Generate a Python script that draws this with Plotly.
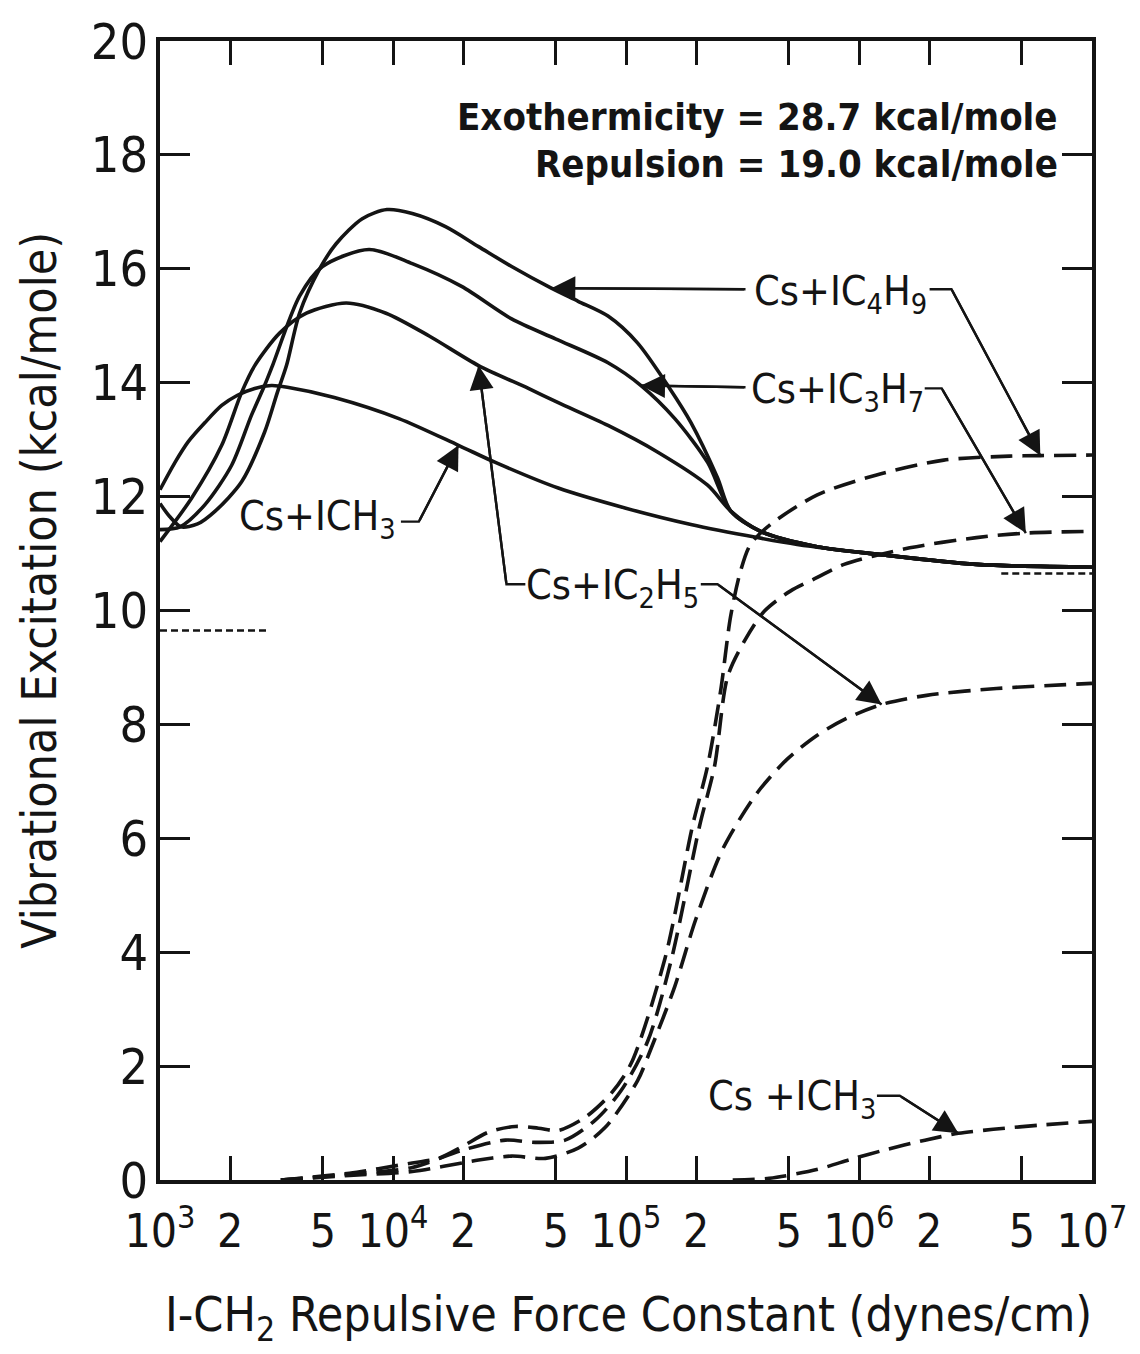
import math
import plotly.graph_objects as go

# I-CH2 repulsive force constant (dynes/cm) vs vibrational excitation (kcal/mole)

# solid curves (upper family)
ich3_solid_k = [1000, 1160, 1320, 1560, 1840, 2150, 2550, 3010, 3520, 5600, 10600, 19100,
                27500, 51200, 99000, 190000, 366000, 543000, 1.19e6, 3.19e6, 1e7]
ich3_solid_e = [12.12, 12.6, 12.96, 13.3, 13.6, 13.78, 13.9, 13.95, 13.92, 13.74, 13.37, 12.9,
                12.6, 12.15, 11.8, 11.51, 11.28, 11.16, 10.99, 10.81, 10.76]

ic2h5_solid_k = [1000, 1370, 1840, 2240, 2550, 3260, 4250, 6300, 9330, 14300, 23300,
                 38100, 51200, 83700, 137000, 224000, 281000, 378000, 662000, 1.19e6,
                 3.19e6, 1e7]
ic2h5_solid_e = [11.21, 11.98, 12.9, 13.83, 14.3, 14.87, 15.22, 15.40, 15.22, 14.82, 14.30,
                 13.9, 13.65, 13.25, 12.78, 12.2, 11.75, 11.39, 11.12, 10.99,
                 10.81, 10.76]

ic3h7_solid_k = [1000, 1220, 1560, 2030, 2470, 2810, 3040, 3970, 4980, 7890, 12100, 19700,
                 32300, 49800, 83700, 116000, 162000, 224000, 281000, 378000, 662000,
                 1.19e6, 3.19e6, 1e7]
ic3h7_solid_e = [11.42, 11.47, 11.86, 12.55, 13.43, 13.95, 14.3, 15.52, 16.04, 16.34, 16.09, 15.69,
                 15.12, 14.77, 14.35, 13.95, 13.37, 12.6, 11.75, 11.39, 11.12,
                 10.99, 10.81, 10.76]

ic4h9_solid_k = [1000, 1100, 1230, 1450, 1720, 2240, 2810, 3190, 3490, 3970, 4830, 5700,
                 7380, 9420, 12100, 16800, 23300, 32300, 47800, 62300, 83700, 112000,
                 154000, 190000, 247000, 281000, 378000, 662000, 1.19e6, 3.19e6, 1e7]
ic4h9_solid_e = [11.88, 11.65, 11.47, 11.52, 11.74, 12.26, 13.13, 13.83, 14.3, 15.22, 15.99, 16.44,
                 16.88, 17.04, 16.97, 16.74, 16.39, 16.04, 15.66, 15.43, 15.17, 14.7,
                 13.9, 13.3, 12.33, 11.75, 11.39, 11.12, 10.99, 10.81, 10.76]

# dashed curves (lower family)
ic4h9_dash_k = [3300, 6500, 12100, 15700, 19700, 25700, 33500, 42100, 51200, 66800, 86300,
                105000, 147000, 193000, 224000, 255000, 281000, 310000, 342000, 417000,
                662000, 1.19e6, 2.31e6, 4.42e6, 6.0e6, 1e7]
ic4h9_dash_e = [0, 0.12, 0.3, 0.38, 0.58, 0.84, 0.94, 0.91, 0.87, 1.1, 1.52,
                2.04, 3.89, 6.22, 7.27, 8.6, 9.89, 10.69, 11.16, 11.51,
                12.03, 12.38, 12.64, 12.71, 12.72, 12.73]

ic3h7_dash_k = [3300, 6500, 12100, 19700, 30400, 40800, 54800, 73800, 95300, 124000,
                157000, 207000, 240000, 273000, 323000, 393000, 507000, 662000, 863000,
                1.65e6, 3.19e6, 5.2e6, 1e7]
ic3h7_dash_e = [0, 0.1, 0.22, 0.52, 0.7, 0.66, 0.7, 1.05, 1.57, 2.44,
                3.89, 6.22, 7.27, 8.84, 9.47, 9.99, 10.34, 10.58, 10.81,
                11.1, 11.28, 11.36, 11.39]

ic2h5_dash_k = [3300, 6500, 12100, 23300, 32300, 45100, 62300, 81300, 112000, 127000,
                162000, 199000, 260000, 366000, 492000, 662000, 889000, 1.25e6, 1.95e6,
                3.89e6, 1e7]
ic2h5_dash_e = [0, 0.08, 0.15, 0.35, 0.42, 0.38, 0.56, 0.92, 1.74, 2.27,
                3.40, 4.57, 5.81, 6.8, 7.39, 7.81, 8.11, 8.35, 8.51,
                8.63, 8.72]

ich3_dash_k = [287000, 412000, 668000, 934000, 1.27e6, 1.92e6, 2.67e6, 3.77e6, 6.24e6, 1e7]
ich3_dash_e = [0, 0.03, 0.19, 0.37, 0.52, 0.7, 0.82, 0.89, 0.97, 1.03]

# short dotted reference levels
dot_left_k = [1000, 2870]
dot_left_e = [9.65, 9.65]
dot_right_k = [4.08e6, 1e7]
dot_right_e = [10.65, 10.65]

# axis ticks
x_tick_vals = [1e3, 2e3, 5e3, 1e4, 2e4, 5e4, 1e5, 2e5, 5e5, 1e6, 2e6, 5e6, 1e7]
x_tick_text = ["10<sup>3</sup>", "2", "5", "10<sup>4</sup>", "2", "5", "10<sup>5</sup>",
               "2", "5", "10<sup>6</sup>", "2", "5", "10<sup>7</sup>"]
x_decades = [1e3, 1e4, 1e5, 1e6, 1e7]
y_tick_vals = [0, 2, 4, 6, 8, 10, 12, 14, 16, 18, 20]

FONT = "Liberation Sans Narrow, DejaVu Sans Condensed, Liberation Sans, sans-serif"
INK = "#141414"

fig = go.Figure()


def curve(k, e, dash="solid", width=3.6):
    fig.add_trace(go.Scatter(
        x=k, y=e, mode="lines",
        line=dict(color=INK, width=width, dash=dash, shape="spline", smoothing=0.8),
        hoverinfo="skip", showlegend=False))


LONG_DASH = "22px,10px"
curve(ich3_solid_k, ich3_solid_e)
curve(ic2h5_solid_k, ic2h5_solid_e)
curve(ic3h7_solid_k, ic3h7_solid_e)
curve(ic4h9_solid_k, ic4h9_solid_e)
curve(ic4h9_dash_k, ic4h9_dash_e, LONG_DASH)
curve(ic3h7_dash_k, ic3h7_dash_e, LONG_DASH)
curve(ic2h5_dash_k, ic2h5_dash_e, LONG_DASH)
curve(ich3_dash_k, ich3_dash_e, LONG_DASH)
curve(dot_left_k, dot_left_e, "7px,4px", 2.6)
curve(dot_right_k, dot_right_e, "7px,4px", 2.6)

# labels with leader lines; tips sit on points of the curves they name
# (label text, label centre log10 k, label centre e, leader pieces)
labels = [
    ("Cs+IC<sub>4</sub>H<sub>9</sub>", 5.919, 15.55,
     [((6.303, 15.64), (6.397, 15.64), (ic4h9_dash_k[24], ic4h9_dash_e[24])),
      ((5.513, 15.64), None, (ic4h9_solid_k[18], ic4h9_solid_e[18]))]),
    ("Cs+IC<sub>3</sub>H<sub>7</sub>", 5.906, 13.84,
     [((6.282, 13.90), (6.355, 13.90), (ic3h7_dash_k[21], ic3h7_dash_e[21])),
      ((5.513, 13.92), None, (ic3h7_solid_k[15], ic3h7_solid_e[15]))]),
    ("Cs+IC<sub>2</sub>H<sub>5</sub>", 4.944, 10.40,
     [((4.568, 10.46), (4.487, 10.46), (ic2h5_solid_k[10], ic2h5_solid_e[10])),
      ((5.321, 10.46), (5.393, 10.46), (ic2h5_dash_k[17], ic2h5_dash_e[17]))]),
    ("Cs+ICH<sub>3</sub>", 3.675, 11.60,
     [((4.034, 11.56), (4.111, 11.56), (ich3_solid_k[11], ich3_solid_e[11]))]),
    ("Cs +ICH<sub>3</sub>", 5.714, 1.42,
     [((6.077, 1.48), (6.175, 1.48), (ich3_dash_k[6], ich3_dash_e[6]))]),
]

annotations = []
for text, lx, ly, leaders in labels:
    annotations.append(dict(
        x=lx, y=ly, xref="x", yref="y", text=text, showarrow=False,
        xanchor="center", yanchor="middle",
        font=dict(family=FONT, size=41, color=INK)))
    for start, kink, tip in leaders:
        pts = [start] + ([kink] if kink else [])
        fig.add_trace(go.Scatter(
            x=[10 ** p[0] for p in pts] + [tip[0]],
            y=[p[1] for p in pts] + [tip[1]],
            mode="lines", line=dict(color=INK, width=2.4),
            hoverinfo="skip", showlegend=False))
        tail = pts[-1]
        annotations.append(dict(
            x=math.log10(tip[0]), y=tip[1], xref="x", yref="y",
            ax=tail[0], ay=tail[1], axref="x", ayref="y",
            text="", showarrow=True, arrowhead=2, arrowsize=2.0,
            arrowwidth=2.4, arrowcolor=INK, standoff=0))

annotations += [
    dict(x=0.966, y=0.933, xref="paper", yref="paper", xanchor="right", yanchor="middle",
         text="<b>Exothermicity = 28.7 kcal/mole</b>", showarrow=False,
         font=dict(family=FONT, size=38, color=INK)),
    dict(x=0.966, y=0.892, xref="paper", yref="paper", xanchor="right", yanchor="middle",
         text="<b>Repulsion = 19.0 kcal/mole</b>", showarrow=False,
         font=dict(family=FONT, size=38, color=INK)),
    dict(x=-0.130, y=0.518, xref="paper", yref="paper", xanchor="center", yanchor="middle",
         text="Vibrational Excitation (kcal/mole)", textangle=-90, showarrow=False,
         font=dict(family=FONT, size=48, color=INK)),
    dict(x=0.503, y=-0.121, xref="paper", yref="paper", xanchor="center", yanchor="middle",
         text="I-CH<sub>2</sub> Repulsive Force Constant (dynes/cm)", showarrow=False,
         font=dict(family=FONT, size=48, color=INK)),
]

axis_common = dict(showgrid=False, zeroline=False, ticks="inside", tickcolor=INK,
                   tickwidth=3, mirror="ticks")

fig.update_layout(
    width=1140, height=1354,
    margin=dict(l=160, r=43, t=33, b=174),
    paper_bgcolor="white", plot_bgcolor="white",
    hovermode=False,
    xaxis=dict(type="log", range=[3, 7], tickmode="array", tickvals=x_tick_vals,
               ticktext=x_tick_text, ticklen=24, showline=True, linewidth=4,
               linecolor=INK, tickfont=dict(family=FONT, size=46, color=INK),
               ticklabelstandoff=8, **axis_common),
    xaxis2=dict(type="log", range=[3, 7], overlaying="x", anchor="y", side="bottom",
                tickmode="array", tickvals=x_decades, ticklen=40, showticklabels=False,
                showline=False, **axis_common),
    yaxis=dict(range=[0, 20], tickmode="array", tickvals=y_tick_vals, ticklen=30,
               showline=True, linewidth=4, linecolor=INK, ticklabelstandoff=-2,
               tickfont=dict(family=FONT, size=50, color=INK), **axis_common),
    annotations=annotations,
)

fig.write_html("out.html")
